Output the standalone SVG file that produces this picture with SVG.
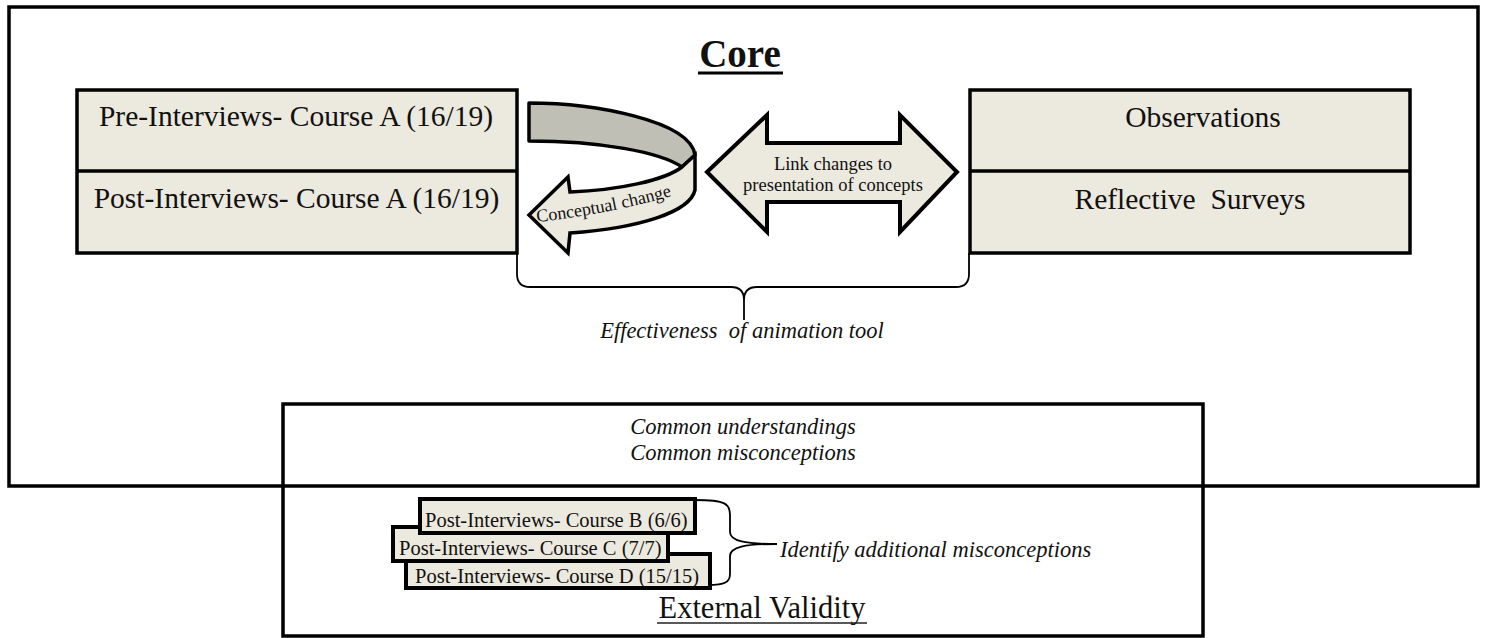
<svg xmlns="http://www.w3.org/2000/svg" width="1485" height="638" viewBox="0 0 1485 638">
<style>
.frame{fill:none;stroke:#000;stroke-width:3.5}
.box{fill:#ECE9DF;stroke:#000;stroke-width:3.5}
.sbox{fill:#ECE9DF;stroke:#000;stroke-width:4}
.brace{fill:none;stroke:#000;stroke-width:1.8}
.t{font-family:"Liberation Serif","Times New Roman",serif;fill:#111}
.big{font-size:29.5px}
.it{font-style:italic;font-size:22.5px}
.sm{font-size:20.5px}
</style>
<rect x="0" y="0" width="1485" height="638" fill="#fff"/>
<g id="core-frame">
<rect class="frame" x="9" y="7" width="1469" height="479"/>
<text class="t" x="740" y="67" text-anchor="middle" font-size="39" font-weight="bold">Core</text>
<line x1="698" y1="73" x2="783" y2="73" stroke="#000" stroke-width="3"/>
</g>
<g id="external-frame">
<rect class="frame" x="283" y="404" width="920" height="232"/>
<text class="t it" x="743" y="434" text-anchor="middle">Common understandings</text>
<text class="t it" x="743" y="460" text-anchor="middle">Common misconceptions</text>
<text class="t" x="762" y="618" text-anchor="middle" font-size="30.5">External Validity</text>
<line x1="657" y1="623" x2="867" y2="623" stroke="#222" stroke-width="1.5"/>
</g>
<g id="interviews-a">
<rect class="box" x="77" y="90" width="440" height="163"/>
<line x1="77" y1="171" x2="517" y2="171" stroke="#000" stroke-width="3.5"/>
<text class="t big" x="296" y="126" text-anchor="middle">Pre-Interviews- Course A (16/19)</text>
<text class="t big" x="296.5" y="208" text-anchor="middle">Post-Interviews- Course A (16/19)</text>
</g>
<g id="observations">
<rect class="box" x="970" y="90" width="440" height="163"/>
<line x1="970" y1="171" x2="1410" y2="171" stroke="#000" stroke-width="3.5"/>
<text class="t big" x="1203" y="127" text-anchor="middle">Observations</text>
<text class="t big" x="1190" y="209" text-anchor="middle" xml:space="preserve">Reflective  Surveys</text>
</g>
<g id="conceptual-change">
<path d="M529,103 C592,103 690,120 695,155 L682,167 C660,152 600,141 529,141 Z" fill="#BFBFB6" stroke="#000" stroke-width="3.5" stroke-linejoin="round"/>
<path d="M695,155 L695,190 C690,212 640,228 570,233 L568,253 L529,215 L568,177 L570,192 C620,190 665,180 682,167 Z" fill="#ECE9DF" stroke="#000" stroke-width="3.5" stroke-linejoin="miter"/>
<path id="ccpath" d="M537,222 Q612,214 682,193" fill="none"/>
<text class="t" font-size="18"><textPath href="#ccpath">Conceptual change</textPath></text>
</g>
<g id="link-changes">
<path d="M707,172 L767,115 L767,143 L900,143 L900,115 L957,172 L900,232 L900,202 L767,202 L767,232 Z" fill="#ECE9DF" stroke="#000" stroke-width="4" stroke-linejoin="miter"/>
<text class="t" x="833" y="170" text-anchor="middle" font-size="18.5">Link changes to</text>
<text class="t" x="833" y="191" text-anchor="middle" font-size="18.5">presentation of concepts</text>
</g>
<g id="course-d">
<rect class="sbox" x="406" y="554" width="304" height="34"/>
<text class="t sm" x="415" y="583">Post-Interviews- Course D (15/15)</text>
</g>
<g id="course-c">
<rect class="sbox" x="393" y="527" width="275" height="34"/>
<text class="t sm" x="399" y="555">Post-Interviews- Course C (7/7)</text>
</g>
<g id="course-b">
<rect class="sbox" x="420" y="499" width="275" height="34"/>
<text class="t sm" x="425" y="527">Post-Interviews- Course B (6/6)</text>
</g>
<g id="connectors">
<path class="brace" d="M517,253 L517,274 Q517,287 530,287 L731,287 Q744,287 744,300 L744,320 M744,300 Q744,287 757,287 L956,287 Q969,287 969,274 L969,253"/>
<path class="brace" d="M695,500 C726,500 730,504 730,515 L730,532 C730,541 745,544 777,544 C745,544 730,547 730,556 L730,574 C730,582 725,585 708,585"/>
</g>
<g id="labels">
<text class="t it" x="742" y="338" text-anchor="middle" xml:space="preserve">Effectiveness  of animation tool</text>
<text class="t it" x="780" y="557">Identify additional misconceptions</text>
</g>
</svg>
